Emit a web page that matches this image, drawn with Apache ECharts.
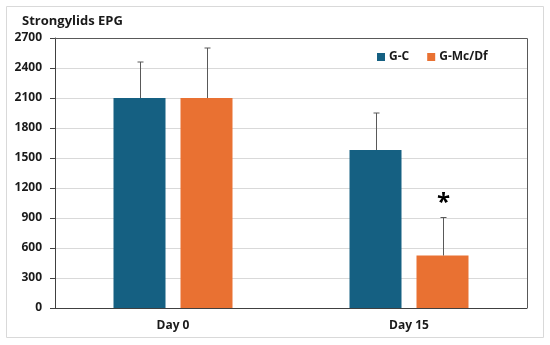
<!DOCTYPE html>
<html><head><meta charset="utf-8">
<script src="https://cdn.jsdelivr.net/npm/echarts@6/dist/echarts.min.js"></script>
<style>html,body{margin:0;padding:0;background:#fff}#c{width:550px;height:345px}</style>
</head><body><div id="c"></div>
<script>
const categories = ['Day 0', 'Day 15'];
const seriesNames = ['G-C', 'G-Mc/Df'];
const gcValues = [2100, 1580];
const gmValues = [2100, 525];
const gcErrors = [360, 370];
const gmErrors = [500, 380];
const gmSignificance = ['', '*'];
const yTicks = [0, 300, 600, 900, 1200, 1500, 1800, 2100, 2400, 2700];

const BAR_W = 52, BAR_GAP = 15;
const colors = ['#156082', '#E97132'];
const font = 'Open Sans';

function errSeries(vals, errs, sig, offset) {
  return {
    type: 'custom', silent: true, z: 5,
    data: vals.map((v, i) => [i, v, v + errs[i], sig ? sig[i] : '']),
    renderItem: function (params, api) {
      const base = api.coord([api.value(0), api.value(1)]);
      const top = api.coord([api.value(0), api.value(2)]);
      const x = Math.round(base[0] + offset) + 0.5;
      const children = [
        { type: 'line', shape: { x1: x, y1: base[1], x2: x, y2: top[1] }, style: { stroke: '#595959', lineWidth: 1 } },
        { type: 'line', shape: { x1: x - 3, y1: top[1], x2: x + 3, y2: top[1] }, style: { stroke: '#595959', lineWidth: 1 } }
      ];
      const s = sig ? sig[params.dataIndex] : '';
      if (s) {
        children.push({ type: 'text', style: { text: s, x: x, y: top[1] - 2, align: 'center', verticalAlign: 'bottom', font: 'bold 24px ' + font, fill: '#000' } });
      }
      return { type: 'group', children: children };
    }
  };
}

const chart = echarts.init(document.getElementById('c'));
chart.setOption({
  animation: false,
  textStyle: { fontFamily: font },
  title: { text: 'Strongylids EPG', left: 17, top: 10, textStyle: { fontSize: 13, fontWeight: 'bold', color: '#1a1a1a', fontFamily: font } },
  legend: {
    data: seriesNames, left: 372, top: 46, itemWidth: 8, itemHeight: 8, itemGap: 18,
    icon: 'rect',
    textStyle: { fontSize: 12, fontWeight: 'bold', color: '#1a1a1a', fontFamily: font, padding: [0, 0, 0, -1] }
  },
  graphic: [
    { type: 'rect', shape: { x: 6.5, y: 6.5, width: 537, height: 331 }, style: { fill: null, stroke: '#d9d9d9', lineWidth: 1 }, silent: true },
    { type: 'polyline', z: 10, shape: { points: [[55, 38.5], [527.5, 38.5], [527.5, 308]] }, style: { fill: null, stroke: '#595959', lineWidth: 1 }, silent: true }
  ],
  grid: { left: 55, right: 23, top: 38, bottom: 37 },
  xAxis: {
    type: 'category', data: categories,
    axisLine: { lineStyle: { color: '#404040', width: 1 } },
    axisTick: { alignWithLabel: true, length: 4, lineStyle: { color: '#404040' } },
    axisLabel: { fontSize: 12, fontWeight: 'bold', color: '#1a1a1a', margin: 12, fontFamily: font }
  },
  yAxis: {
    type: 'value', min: yTicks[0], max: yTicks[yTicks.length - 1], interval: 300,
    axisLine: { show: true, lineStyle: { color: '#404040', width: 1 } },
    axisTick: { show: true, length: 5, lineStyle: { color: '#404040' } },
    splitLine: { lineStyle: { color: '#d9d9d9', width: 1 } },
    axisLabel: { fontSize: 12, fontWeight: 'bold', color: '#1a1a1a', margin: 13, fontFamily: font, formatter: v => String(v) }
  },
  series: [
    { name: seriesNames[0], type: 'bar', data: gcValues, barWidth: BAR_W, barGap: (BAR_GAP / BAR_W * 100) + '%', itemStyle: { color: colors[0] } },
    { name: seriesNames[1], type: 'bar', data: gmValues, barWidth: BAR_W, itemStyle: { color: colors[1] } },
    errSeries(gcValues, gcErrors, null, -(BAR_W + BAR_GAP) / 2),
    errSeries(gmValues, gmErrors, gmSignificance, (BAR_W + BAR_GAP) / 2)
  ]
});
</script></body></html>
